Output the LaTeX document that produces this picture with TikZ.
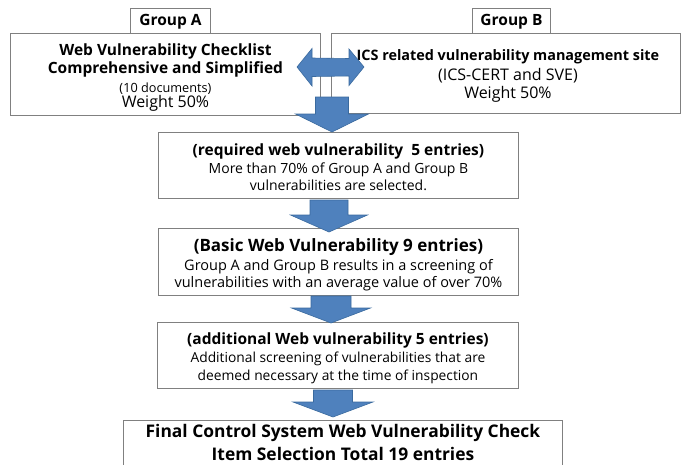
\documentclass[tikz,border=0pt]{standalone}
\usepackage{fontspec}
\setmainfont{Open Sans}
\definecolor{boxgray}{HTML}{808080}
\definecolor{arrowblue}{HTML}{4F81BD}
\definecolor{arrowedge}{HTML}{3A6A9E}
\begin{document}
\begin{tikzpicture}[x=1pt,y=-1pt,
  box/.style={draw=boxgray, line width=0.9pt, fill=white, inner sep=0pt,
    align=center, anchor=north west},
  tag/.style={box, font=\fontsize{15.5}{17}\selectfont\bfseries},
  txt/.style={inner sep=0pt, align=center},
  fatarrow/.style={fill=arrowblue, draw=arrowedge, line width=0.6pt, line join=miter},
  % block arrow pointing down: shaft half width / head half width / head start / tip
  pics/fatdown/.style args={#1/#2/#3/#4}{code={
    \path[fatarrow] (-#1,0) -- (#1,0) -- (#1,#3) -- (#2,#3) -- (0,#4)
      -- (-#2,#3) -- (-#1,#3) -- cycle;}}
]
\useasboundingbox (0,0) rectangle (682,464);
\clip (0,0) rectangle (682,464);

% source groups
\node[tag, minimum width=80pt, minimum height=26pt] (tagA) at (130,8) {Group A};
\node[tag, minimum width=78pt, minimum height=26pt] (tagB) at (472,8) {Group B};

\node[box, minimum width=310pt, minimum height=82pt] (grpA) at (10,33) {};
\node[txt, font=\fontsize{16}{18}\selectfont] (grpAtxt) at ([yshift=-3pt]grpA.center)
  {{\fontsize{15.5}{18}\selectfont\bfseries Web Vulnerability Checklist}\\
   {\fontsize{15.5}{18}\selectfont\bfseries Comprehensive and Simplified}\\[1pt]
   {\fontsize{12.7}{14}\selectfont (10 documents)}\\[-3pt]
   Weight 50\%};

\node[box, minimum width=349pt, minimum height=80pt] (grpB) at (331,33) {};
\node[txt, font=\fontsize{16}{18}\selectfont] (grpBtxt) at ([xshift=2pt,yshift=-2pt]grpB.center)
  {{\fontsize{14.4}{18}\selectfont\bfseries ICS related vulnerability management site}\\[2pt]
   (ICS-CERT and SVE)\\
   Weight 50\%};

% selection stages
\node[box, minimum width=360pt, minimum height=66pt] (req) at (158,132) {};
\node[txt, font=\fontsize{14}{17.5}\selectfont] (reqtxt) at ([yshift=-2pt]req.center)
  {{\fontsize{15.5}{17}\selectfont\bfseries (required web vulnerability\ \ 5 entries)}\\[0.5pt]
   More than 70\% of Group A and Group B\\
   vulnerabilities are selected.};

\node[box, minimum width=360pt, minimum height=67pt] (basic) at (158,228) {};
\node[txt, font=\fontsize{14.5}{17.5}\selectfont] (basictxt) at ([yshift=-3pt]basic.center)
  {{\fontsize{17}{17}\selectfont\bfseries (Basic Web Vulnerability 9 entries)}\\[1.5pt]
   Group A and Group B results in a screening of\\
   vulnerabilities with an average value of over 70\%};

\node[box, minimum width=361pt, minimum height=66pt] (addl) at (157,322) {};
\node[txt, font=\fontsize{13.8}{17.5}\selectfont] (addltxt) at ([yshift=-3pt]addl.center)
  {{\fontsize{15.5}{17}\selectfont\bfseries (additional Web vulnerability 5 entries)}\\[0.5pt]
   Additional screening of vulnerabilities that are\\
   deemed necessary at the time of inspection};

\node[box, minimum width=439pt, minimum height=60pt] (final) at (123,420) {};
\node[txt, font=\fontsize{17.4}{23}\selectfont\bfseries, anchor=north]
  (finaltxt) at ([yshift=-4pt]final.north)
  {Final Control System Web Vulnerability Check\\
   Item Selection Total 19 entries};

% block arrows between the stages
\pic at (332,97)  {fatdown={16.5/36.5/17/35}};
\pic at (329,200) {fatdown={19/38.5/15/32}};
\pic at (331,296) {fatdown={20/39.5/12/27}};
\pic at (333,390) {fatdown={19.5/40/12/27}};

% exchange between the two groups
\coordinate (dl) at (297,67);
\coordinate (dr) at (364,67);
\path[fatarrow] (dl) -- ++(15,-18.5) -- ++(0,9.5) -- (349,58.5) -- ++(0,-9.5)
  -- (dr) -- ++(-15,18.5) -- ++(0,-9.5) -- (312,76.5) -- ++(0,9.5) -- cycle;
\end{tikzpicture}
\end{document}
